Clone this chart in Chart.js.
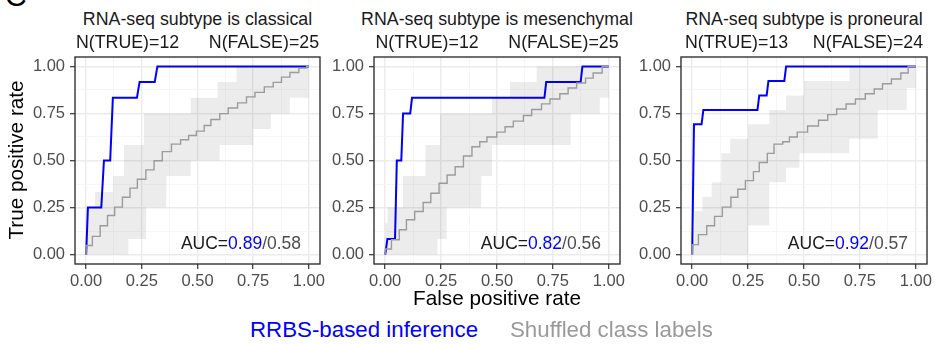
<!DOCTYPE html>
<html>
<head>
<meta charset="utf-8">
<script src="https://cdn.jsdelivr.net/npm/chart.js@4.4.0/dist/chart.umd.min.js"></script>
<style>
  body { margin:0; width:935px; height:344px; background:#fff; position:relative; overflow:hidden;
         font-family:"Liberation Sans", Arial, sans-serif; }
  canvas { position:absolute; }
  .txt { position:absolute; white-space:pre; line-height:20px; }
</style>
</head>
<body>
<div class="txt" style="left:5px;top:-24px;font-size:30px;line-height:40px;color:#000">C</div>
<canvas id="p0" width="330" height="245" style="left:0px;top:50px"></canvas>
<canvas id="p1" width="300" height="245" style="left:330px;top:50px"></canvas>
<canvas id="p2" width="305" height="245" style="left:630px;top:50px"></canvas>
<div id="labels"></div>
<script>
// axis ticks
const majorTicks = [0, 0.25, 0.5, 0.75, 1];
const tickLabels = ['0.00', '0.25', '0.50', '0.75', '1.00'];
const minorTicks = [0.125, 0.375, 0.625, 0.875];

// panel headers
const panelTitles = ['RNA-seq subtype is classical', 'RNA-seq subtype is mesenchymal', 'RNA-seq subtype is proneural'];
const nTrue = [12, 12, 13];
const nFalse = [25, 25, 24];
const aucInferred = ['0.89', '0.82', '0.92'];
const aucShuffled = ['0.58', '0.56', '0.57'];

// classical
const blueClassicalX = [0, 0.008, 0.068, 0.08, 0.108, 0.12, 0.228, 0.24, 0.308, 0.32, 1];
const blueClassicalY = [0, 0.25, 0.25, 0.5, 0.5, 0.833, 0.833, 0.917, 0.917, 1, 1];
const grayClassicalX = [0, 0.028, 0.063, 0.096, 0.128, 0.163, 0.197, 0.23, 0.268, 0.305, 0.342, 0.383, 0.424, 0.46, 0.495, 0.53, 0.56, 0.6, 0.638, 0.68, 0.72, 0.758, 0.8, 0.84, 0.877, 0.915, 0.955, 0.99, 1];
const grayClassicalY = [0, 0.048, 0.097, 0.153, 0.208, 0.252, 0.305, 0.353, 0.4, 0.45, 0.499, 0.547, 0.587, 0.61, 0.633, 0.656, 0.686, 0.718, 0.749, 0.779, 0.806, 0.838, 0.862, 0.891, 0.915, 0.943, 0.968, 0.991, 1];
const bandClassicalX = [0, 0.04, 0.12, 0.17, 0.19, 0.26, 0.27, 0.36, 0.47, 0.59, 0.6, 0.675, 0.75, 0.83, 0.915, 1];
const bandHiClassical = [0.25, 0.333, 0.417, 0.583, 0.583, 0.75, 0.75, 0.75, 0.833, 0.917, 0.917, 1, 1, 1, 1, 1];
const bandLoClassical = [0, 0, 0, 0, 0.083, 0.083, 0.25, 0.417, 0.5, 0.5, 0.583, 0.583, 0.667, 0.75, 0.833, 0.833];

// mesenchymal
const blueMesenchymalX = [0, 0.01, 0.044, 0.052, 0.072, 0.08, 0.112, 0.12, 0.712, 0.72, 0.874, 0.882, 1];
const blueMesenchymalY = [0, 0.083, 0.083, 0.5, 0.5, 0.75, 0.75, 0.833, 0.833, 0.917, 0.917, 1, 1];
const grayMesenchymalX = [0, 0.028, 0.063, 0.095, 0.132, 0.17, 0.204, 0.241, 0.277, 0.313, 0.35, 0.388, 0.423, 0.455, 0.499, 0.536, 0.573, 0.618, 0.655, 0.699, 0.737, 0.781, 0.818, 0.856, 0.896, 0.93, 0.97, 1];
const grayMesenchymalY = [0, 0.03, 0.079, 0.132, 0.185, 0.229, 0.277, 0.326, 0.379, 0.423, 0.467, 0.524, 0.573, 0.6, 0.625, 0.651, 0.679, 0.709, 0.739, 0.771, 0.801, 0.827, 0.855, 0.885, 0.912, 0.938, 0.965, 1];
const bandMesenchymalX = [0, 0.01, 0.08, 0.18, 0.234, 0.245, 0.275, 0.43, 0.478, 0.558, 0.677, 0.83, 0.96, 1];
const bandHiMesenchymal = [0.167, 0.25, 0.417, 0.583, 0.583, 0.75, 0.75, 0.75, 0.833, 0.917, 1, 1, 1, 1];
const bandLoMesenchymal = [0, 0, 0, 0, 0.083, 0.083, 0.25, 0.417, 0.583, 0.583, 0.583, 0.75, 0.833, 0.833];

// proneural
const blueProneuralX = [0, 0.008, 0.042, 0.05, 0.292, 0.3, 0.333, 0.341, 0.412, 0.42, 1];
const blueProneuralY = [0, 0.692, 0.692, 0.769, 0.769, 0.846, 0.846, 0.923, 0.923, 1, 1];
const grayProneuralX = [0, 0.028, 0.065, 0.1, 0.135, 0.173, 0.204, 0.238, 0.274, 0.3, 0.336, 0.366, 0.405, 0.435, 0.47, 0.516, 0.565, 0.606, 0.646, 0.688, 0.73, 0.774, 0.814, 0.851, 0.891, 0.933, 0.966, 1];
const grayProneuralY = [0, 0.053, 0.106, 0.153, 0.203, 0.252, 0.305, 0.347, 0.393, 0.441, 0.489, 0.538, 0.587, 0.6, 0.625, 0.651, 0.683, 0.714, 0.744, 0.774, 0.8, 0.827, 0.855, 0.88, 0.908, 0.933, 0.965, 1];
const bandProneuralX = [0, 0.01, 0.046, 0.087, 0.13, 0.17, 0.25, 0.345, 0.42, 0.48, 0.5, 0.703, 0.83, 0.96, 1];
const bandHiProneural = [0.077, 0.231, 0.308, 0.385, 0.538, 0.615, 0.692, 0.769, 0.846, 0.846, 0.923, 1, 1, 1, 1];
const bandLoProneural = [0, 0, 0, 0, 0, 0, 0.154, 0.385, 0.462, 0.538, 0.538, 0.615, 0.769, 0.885, 0.885];

const blueColor = '#0000ff';
const grayColor = '#a8a8a8';

function pts(xs, ys) {
    return xs.map((x, i) => ({x: x, y: ys[i]}));
}
// step function -> explicit corner points (value ys[i] holds from xs[i] to xs[i+1])
function stepCorners(xs, ys) {
    const out = [];
    for (let i = 0; i < xs.length; i++) {
        if (i > 0) out.push({x: xs[i] - 0.0005, y: ys[i - 1]});
        out.push({x: xs[i], y: ys[i]});
    }
    return out;
}

// where each plot panel sits: canvas id, y axis width, right padding
const panelBoxes = [
    {canvas: 'p0', axisW: 75, padR: 10},
    {canvas: 'p1', axisW: 44, padR: 10},
    {canvas: 'p2', axisW: 51, padR: 8}
];
const panelData = [
    [bandClassicalX, bandHiClassical, bandLoClassical, grayClassicalX, grayClassicalY, blueClassicalX, blueClassicalY],
    [bandMesenchymalX, bandHiMesenchymal, bandLoMesenchymal, grayMesenchymalX, grayMesenchymalY, blueMesenchymalX, blueMesenchymalY],
    [bandProneuralX, bandHiProneural, bandLoProneural, grayProneuralX, grayProneuralY, blueProneuralX, blueProneuralY]
];

const allTicks = majorTicks.concat(minorTicks).sort((a, b) => a - b);
function isMajor(v) { return majorTicks.indexOf(v) >= 0; }

function axisOpts(isX, axisSize) {
    return {
        type: 'linear', min: -0.05, max: 1.05,
        afterBuildTicks: s => { s.ticks = allTicks.map(v => ({value: v})); },
        afterFit: s => {
            if (isX) s.height = axisSize; else s.width = axisSize;
            s.paddingTop = 0; s.paddingBottom = 0; s.paddingLeft = 0; s.paddingRight = 0;
        },
        ticks: {
            autoSkip: false, maxRotation: 0,
            color: '#4d4d4d',
            font: {family: 'Liberation Sans', size: 16.5},
            padding: isX ? 3 : 5,
            callback: v => isMajor(v) ? tickLabels[majorTicks.indexOf(v)] : ''
        },
        grid: {
            color: c => (c.tick && isMajor(c.tick.value)) ? '#ebebeb' : '#f4f4f4',
            lineWidth: c => (c.tick && isMajor(c.tick.value)) ? 1.4 : 0.8,
            tickColor: c => (c.tick && isMajor(c.tick.value)) ? '#333333' : 'rgba(0,0,0,0)',
            tickWidth: 1.2,
            tickLength: 5
        },
        border: {display: false}
    };
}

const framePlugin = {
    id: 'frame',
    afterDatasetsDraw(chart) {
        const a = chart.chartArea, c = chart.ctx;
        const i = chart.options.plugins.frame.panel;
        c.save();
        c.strokeStyle = '#333333';
        c.lineWidth = 1.4;
        c.strokeRect(a.left, a.top, a.right - a.left, a.bottom - a.top);
        // AUC label
        const parts = [['AUC=', '#1a1a1a'], [aucInferred[i], blueColor], ['/' + aucShuffled[i], '#4d4d4d']];
        c.font = '17.5px "Liberation Sans"';
        c.textBaseline = 'middle';
        let w = 0;
        parts.forEach(p => { w += c.measureText(p[0]).width; });
        let x = chart.scales.x.getPixelForValue(0.965) - w;
        const y = chart.scales.y.getPixelForValue(0.053);
        parts.forEach(p => {
            c.fillStyle = p[1];
            c.fillText(p[0], x, y);
            x += c.measureText(p[0]).width;
        });
        c.restore();
    }
};

function drawPanel(i) {
    const box = panelBoxes[i];
    const d = panelData[i];
    const ctx = document.getElementById(box.canvas).getContext('2d');
    new Chart(ctx, {
        type: 'line',
        data: {
            datasets: [
                {data: stepCorners(d[0], d[1]), borderWidth: 0, borderColor: 'rgba(0,0,0,0)',
                 pointRadius: 0, fill: '+1', backgroundColor: 'rgba(0,0,0,0.075)'},
                {data: stepCorners(d[0], d[2]), borderWidth: 0, borderColor: 'rgba(0,0,0,0)',
                 pointRadius: 0, fill: false},
                {data: pts(d[3], d[4]), stepped: 'after', borderColor: grayColor, borderWidth: 1.4,
                 pointRadius: 0, fill: false},
                {data: pts(d[5], d[6]), borderColor: blueColor, borderWidth: 2, pointRadius: 0, fill: false}
            ]
        },
        options: {
            responsive: false, animation: false, devicePixelRatio: 1,
            layout: {padding: {left: 0, top: 7, right: box.padR, bottom: 0}},
            plugins: {legend: {display: false}, tooltip: {enabled: false}, frame: {panel: i}},
            scales: {x: axisOpts(true, 31), y: axisOpts(false, box.axisW)}
        },
        plugins: [framePlugin]
    });
}

// text around the panels
const plotCenters = [197.5, 497, 804];
const labelsDiv = document.getElementById('labels');
function addText(txt, left, top, size, color, extra) {
    const el = document.createElement('div');
    el.className = 'txt';
    el.textContent = txt;
    el.style.left = left + 'px';
    el.style.top = top + 'px';
    el.style.fontSize = size + 'px';
    el.style.color = color;
    if (extra) Object.assign(el.style, extra);
    labelsDiv.appendChild(el);
    return el;
}
const gaps = ['      ', '      ', '     '];
for (let i = 0; i < 3; i++) {
    addText(panelTitles[i], plotCenters[i] - 200, 9, 17.8, '#1a1a1a', {width: '400px', textAlign: 'center'});
    addText('N(TRUE)=' + nTrue[i] + gaps[i] + 'N(FALSE)=' + nFalse[i], plotCenters[i] - 200, 32, 17.8, '#1a1a1a', {width: '400px', textAlign: 'center'});
    drawPanel(i);
}
addText('False positive rate', 297, 288, 20.7, '#000', {width: '400px', textAlign: 'center'});
addText('True positive rate', 16 - 150, 150, 20.7, '#000', {width: '300px', textAlign: 'center', transform: 'rotate(-90deg)'});
addText('RRBS-based inference', 250, 320, 22.3, blueColor);
addText('Shuffled class labels', 510, 320, 22.3, '#999999');
</script>
</body>
</html>
